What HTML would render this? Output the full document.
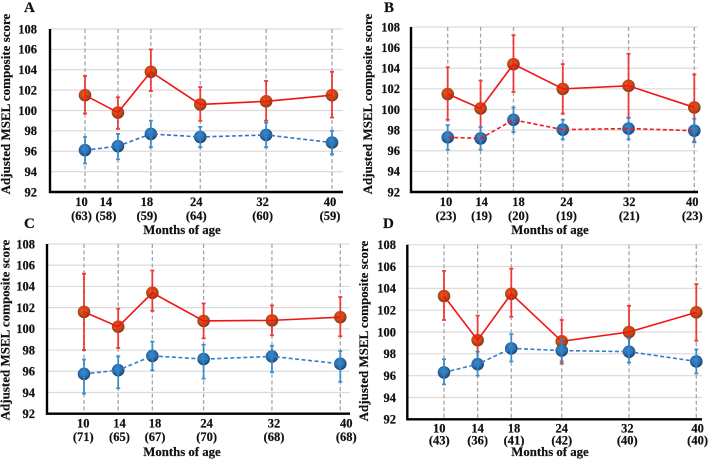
<!DOCTYPE html>
<html lang="en">
<head>
<meta charset="utf-8">
<title>Adjusted MSEL composite score by months of age</title>
<style>
html,body{margin:0;padding:0;background:#fff;width:709px;height:459px;overflow:hidden}
svg{display:block;filter:blur(0.35px)}
text{font-family:"Liberation Serif",serif;font-weight:bold;fill:#111;stroke:#111;stroke-width:0.2px}
</style>
</head>
<body>
<svg id="chart" width="709" height="459" viewBox="0 0 709 459" xmlns="http://www.w3.org/2000/svg">
<defs>
<radialGradient id="gradRed" cx="45%" cy="40%" r="60%">
<stop offset="0%" stop-color="#e8601c"/><stop offset="60%" stop-color="#c24a14"/><stop offset="100%" stop-color="#6e3a14"/>
</radialGradient>
<radialGradient id="gradBlue" cx="45%" cy="40%" r="60%">
<stop offset="0%" stop-color="#3d8fd6"/><stop offset="60%" stop-color="#2a6cab"/><stop offset="100%" stop-color="#1c3f66"/>
</radialGradient>
</defs>
</svg>
<script>
const months = [10, 14, 18, 24, 32, 40];
const yTicks = [92, 94, 96, 98, 100, 102, 104, 106, 108];
const yAxisTitle = "Adjusted MSEL composite score";
const xAxisTitle = "Months of age";

const countsA = [63, 58, 59, 64, 60, 59];
const redA = [101.5, 99.8, 103.8, 100.6, 100.9, 101.5];
const redUpA = [103.4, 101.3, 106, 102.3, 102.9, 103.8];
const redLoA = [99.7, 98.2, 101.9, 99, 99, 99.3];
const blueA = [96.1, 96.5, 97.7, 97.4, 97.6, 96.85];
const blueUpA = [97.4, 97.7, 99, 98.4, 98.8, 98];
const blueLoA = [94.8, 95.2, 96.4, 96.4, 96.4, 95.7];

const countsB = [23, 19, 20, 19, 21, 23];
const redB = [101.5, 100.1, 104.4, 102, 102.3, 100.2];
const redUpB = [104.1, 102.8, 107.2, 104.4, 105.4, 103.4];
const redLoB = [99, 97.4, 101.7, 99.6, 99.2, 96.9];
const blueB = [97.3, 97.2, 99, 98.05, 98.15, 97.95];
const blueUpB = [98.5, 98.3, 100.2, 99, 99.2, 99.1];
const blueLoB = [96.1, 96.1, 97.8, 97.1, 97.1, 96.8];

const countsC = [71, 65, 67, 70, 68, 68];
const redC = [101.6, 100.2, 103.4, 100.75, 100.8, 101.1];
const redUpC = [105.2, 101.9, 105.5, 102.4, 102.2, 103];
const redLoC = [98, 98.2, 101.7, 99.1, 99.4, 99.3];
const blueC = [95.75, 96.1, 97.45, 97.15, 97.4, 96.7];
const blueUpC = [97.1, 97.4, 98.8, 98.5, 98.4, 97.9];
const blueLoC = [93.9, 94.4, 96.1, 95.3, 95.9, 95];

const countsD = [43, 36, 41, 42, 40, 40];
const redD = [103.3, 99.25, 103.5, 99.15, 100, 101.8];
const redUpD = [105.6, 101.5, 105.8, 101.1, 102.4, 104.4];
const redLoD = [101.1, 96.9, 101.4, 97.1, 97.7, 99.2];
const blueD = [96.3, 97.05, 98.5, 98.3, 98.2, 97.3];
const blueUpD = [97.5, 98.2, 99.8, 99.3, 99.4, 98.4];
const blueLoD = [95.2, 96, 97.3, 97.3, 97.2, 96.2];

const panels = [
  {id:"a", letter:"A", lx:24, ly:12, axisX:50, axisEnd:343, top:29, bottom:192, x10:85, x40:332, tickRight:37, titleX:10, titleMid:104, xTitleX:182, xTitleY:234, labelDx:[-3.5,-12,-4,-4,-3.5,-2], counts:countsA, red:redA, redUp:redUpA, redLo:redLoA, blue:blueA, blueUp:blueUpA, blueLo:blueLoA, blueLine:"#2f74c8", line1Y:206, line2Y:220},
  {id:"b", letter:"B", lx:384, ly:12, axisX:411, axisEnd:698, top:27, bottom:192, x10:447.7, x40:694.3, tickRight:400, titleX:372, titleMid:104, xTitleX:550, xTitleY:234, labelDx:[-1.7,1,5,3.7,0.7,-2], counts:countsB, red:redB, redUp:redUpB, redLo:redLoB, blue:blueB, blueUp:blueUpB, blueLo:blueLoB, blueLine:"#f01818", line1Y:206, line2Y:220},
  {id:"c", letter:"C", lx:24, ly:228, axisX:47, axisEnd:350, top:244, bottom:413.7, x10:84, x40:340.3, tickRight:35, titleX:9.5, titleMid:330, xTitleX:182, xTitleY:456, labelDx:[-0.7,1.3,2.7,3,2,6], counts:countsC, red:redC, redUp:redUpC, redLo:redLoC, blue:blueC, blueUp:blueUpC, blueLo:blueLoC, blueLine:"#2f80c8", line1Y:427.5, line2Y:441},
  {id:"d", letter:"D", lx:383, ly:228, axisX:407.3, axisEnd:702, top:244.7, bottom:419.3, x10:444, x40:696.3, tickRight:396, titleX:368, titleMid:331, xTitleX:550, xTitleY:456, labelDx:[-4.7,0,2.7,0,-1.7,1.3], counts:countsD, red:redD, redUp:redUpD, redLo:redLoD, blue:blueD, blueUp:blueUpD, blueLo:blueLoD, blueLine:"#2f80c8", line1Y:432.5, line2Y:444.5}
];

const NS = "http://www.w3.org/2000/svg";
const root = document.getElementById("chart");

function mk(parent, tag, attrs, txt) {
  const el = document.createElementNS(NS, tag);
  for (const k in attrs) el.setAttribute(k, attrs[k]);
  if (txt !== undefined) el.textContent = txt;
  parent.appendChild(el);
  return el;
}

function drawSeries(g, p, xs, ys, vals, ups, los, color, lineColor, fill, dash, seriesName) {
  vals.forEach(function (v, i) {
    const dot = mk(g, "circle", {cx: xs(months[i]), cy: ys(v), r: 6.3, fill: "url(#" + fill + ")"});
    
    
  });
  ups.forEach(function (u, i) {
    const bar = mk(g, "path", {
      d: "M" + (xs(months[i]) - 2) + " " + ys(u) + "H" + (xs(months[i]) + 2) +
         "M" + xs(months[i]) + " " + ys(u) + "V" + ys(los[i]) +
         "M" + (xs(months[i]) - 2) + " " + ys(los[i]) + "H" + (xs(months[i]) + 2),
      stroke: color, "stroke-width": 1.8, fill: "none", opacity: 0.9
    });
    
    
  });
  const pts = vals.map(function (v, i) { return xs(months[i]) + "," + ys(v); }).join(" ");
  const attrs = {points: pts, fill: "none", stroke: lineColor, "stroke-width": 1.6};
  if (dash) attrs["stroke-dasharray"] = dash;
  const line = mk(g, "polyline", attrs);
  
  
}

panels.forEach(function (p) {
  const g = mk(root, "g", {});
  
  

  const xs = function (m) { return p.x10 + (m - 10) * (p.x40 - p.x10) / 30; };
  const ys = function (v) { return p.bottom - (v - 92) * (p.bottom - p.top) / 16; };

  const letter = mk(g, "text", {x: p.lx, y: p.ly, "font-size": 15}, p.letter);
  
  

  yTicks.forEach(function (t) {
    if (t > 92) {
      const gl = mk(g, "line", {x1: p.axisX, x2: p.axisEnd, y1: ys(t), y2: ys(t), stroke: "#dcdcdc", "stroke-width": 1.2});
      
      
    }
    const lab = mk(g, "text", {x: p.tickRight, y: ys(t) + 4.3, "text-anchor": "end", "font-size": 12.5}, String(t));
    
    
  });

  months.forEach(function (m, i) {
    const vl = mk(g, "line", {x1: xs(m), x2: xs(m), y1: p.top, y2: p.bottom, stroke: "#a6a6a6", "stroke-width": 1.3, "stroke-dasharray": "4 2.5"});
    
    
    const l1 = mk(g, "text", {x: xs(m) + p.labelDx[i], y: p.line1Y, "text-anchor": "middle", "font-size": 12.5}, String(m));
    
    
    const l2 = mk(g, "text", {x: xs(m) + p.labelDx[i], y: p.line2Y, "text-anchor": "middle", "font-size": 12.5}, "(" + p.counts[i] + ")");
    
    
  });

  const axes = mk(g, "path", {d: "M" + p.axisX + " " + p.top + "V" + p.bottom + "H" + p.axisEnd, fill: "none", stroke: "#000", "stroke-width": 2.4});
  
  

  drawSeries(g, p, xs, ys, p.red, p.redUp, p.redLo, "#ee2a2a", "#f01414", "gradRed", null, "red-series");
  drawSeries(g, p, xs, ys, p.blue, p.blueUp, p.blueLo, "#2f86c6", p.blueLine, "gradBlue", "4 2.5", "blue-series");

  const yt = mk(g, "text", {transform: "translate(" + p.titleX + " " + p.titleMid + ") rotate(-90)", "text-anchor": "middle", "font-size": 13}, yAxisTitle);
  
  

  const xt = mk(g, "text", {x: p.xTitleX, y: p.xTitleY, "text-anchor": "middle", "font-size": 12.8}, xAxisTitle);
  
  
});
</script>
</body>
</html>
